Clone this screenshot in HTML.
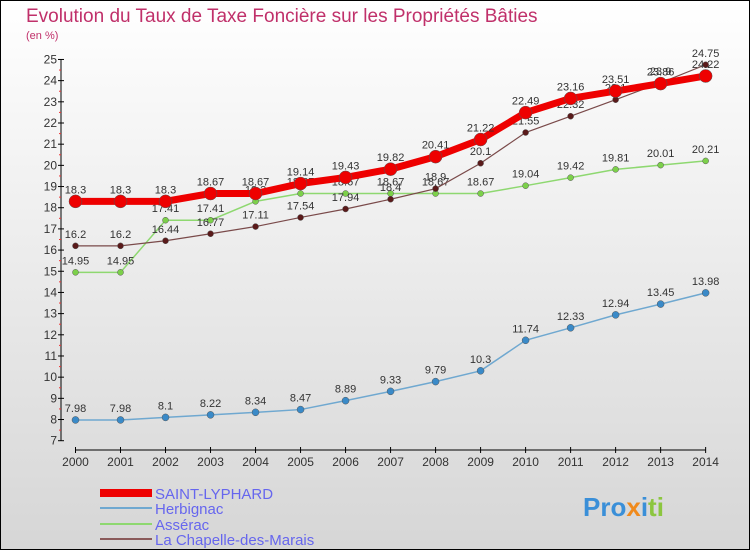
<!DOCTYPE html>
<html><head><meta charset="utf-8"><style>
body{margin:0}
#c{width:750px;height:550px;position:relative;font-family:"Liberation Sans",sans-serif}
</style></head><body>
<div id="c">
<svg width="750" height="550" xmlns="http://www.w3.org/2000/svg" id="svg">
<defs><linearGradient id="bg" x1="0" y1="0" x2="0" y2="1"><stop offset="0" stop-color="#ffffff"/><stop offset="1" stop-color="#d6d6d6"/></linearGradient></defs>
<rect x="0.5" y="0.5" width="749" height="549" fill="url(#bg)" stroke="#000"/>
<text x="26" y="22" font-size="19" fill="#c0306a">Evolution du Taux de Taxe Foncière sur les Propriétés Bâties</text>
<text x="26" y="39" font-size="11" fill="#c0306a">(en %)</text>
<g id="axes"></g><g id="series"></g>
<g>
<rect x="100" y="489" width="52" height="8" fill="#ee0000"/>
<text x="155" y="499" font-size="15" fill="#6666ee">SAINT-LYPHARD</text>
<rect x="100" y="507" width="52" height="2" fill="#6fa8d0"/>
<text x="155" y="514" font-size="15" fill="#6666ee">Herbignac</text>
<rect x="100" y="523" width="52" height="2" fill="#8ed870"/>
<text x="155" y="530" font-size="15" fill="#6666ee">Assérac</text>
<rect x="100" y="538" width="52" height="2" fill="#8a5a5a"/>
<text x="155" y="545" font-size="15" fill="#6666ee">La Chapelle-des-Marais</text>
</g>
<text x="583" y="516" font-size="26" font-weight="bold"><tspan fill="#3a8fd8">Pro</tspan><tspan fill="#f08a1c">x</tspan><tspan fill="#3a8fd8">i</tspan><tspan fill="#8cc63f">ti</tspan></text>
</svg></div>
<script>
const years=[2000,2001,2002,2003,2004,2005,2006,2007,2008,2009,2010,2011,2012,2013,2014];
const yTicks=[7,8,9,10,11,12,13,14,15,16,17,18,19,20,21,22,23,24,25];
const saintLyphard=[18.3,18.3,18.3,18.67,18.67,19.14,19.43,19.82,20.41,21.22,22.49,23.16,23.51,23.86,24.22];
const herbignac=[7.98,7.98,8.1,8.22,8.34,8.47,8.89,9.33,9.79,10.3,11.74,12.33,12.94,13.45,13.98];
const asserac=[14.95,14.95,17.41,17.41,18.3,18.67,18.67,18.67,18.67,18.67,19.04,19.42,19.81,20.01,20.21];
const chapelle=[16.2,16.2,16.44,16.77,17.11,17.54,17.94,18.4,18.9,20.1,21.55,22.32,23.1,23.9,24.75];
const NS="http://www.w3.org/2000/svg";
const X=i=>75.5+i*45.01, Y=v=>440.7-(v-7)*21.18;
function mk(t,a,p){const e=document.createElementNS(NS,t);for(const k in a)e.setAttribute(k,a[k]);p.appendChild(e);return e;}
const ax=document.getElementById('axes');
const yl=mk('line',{x1:61,y1:59,x2:61,y2:441,stroke:'#000'},ax);


yTicks.forEach(v=>{
 mk('line',{x1:58,x2:64,y1:Y(v),y2:Y(v),stroke:'#000'},ax);
 if(v<25)mk('line',{x1:59,x2:61,y1:Y(v+0.5),y2:Y(v+0.5),stroke:'#e33'},ax);
 const t=mk('text',{x:57,y:Y(v)+4,'font-size':12,'text-anchor':'end',fill:'#333'},ax);t.textContent=v;
 
 
});
const xl=mk('line',{x1:75,y1:450,x2:706,y2:450,stroke:'#000'},ax);


years.forEach((y,i)=>{
 mk('line',{x1:X(i),x2:X(i),y1:447,y2:453,stroke:'#000'},ax);
 const t=mk('text',{x:X(i),y:466,'font-size':12,'text-anchor':'middle',fill:'#333'},ax);t.textContent=y;
 
 
});
const sg=document.getElementById('series');
function series(d,name,col,w,r,dot){
 const g=mk('g',{},sg);
 
 
 mk('polyline',{points:d.map((v,i)=>X(i)+','+Y(v)).join(' '),fill:'none',stroke:col,'stroke-width':w},g);
 d.forEach((v,i)=>{
  const c=mk('circle',{cx:X(i),cy:Y(v),r:r,fill:dot,stroke:'#555','stroke-width':0.5},g);
  
  
  const t=mk('text',{x:X(i),y:Y(v)-8,'font-size':11,'text-anchor':'middle',fill:'#333'},g);t.textContent=v;
  
  
 });
}
series(herbignac,'herbignac','#6fa8d0',1.5,3.5,'#3a8ac8');
series(asserac,'asserac','#8ed870',1.5,3,'#7cd04a');
series(chapelle,'chapelle','#7a4a4a',1.2,3,'#5a1a1a');
series(saintLyphard,'saint-lyphard','#ee0000',7,6.5,'#ee0000');
</script>
</body></html>
